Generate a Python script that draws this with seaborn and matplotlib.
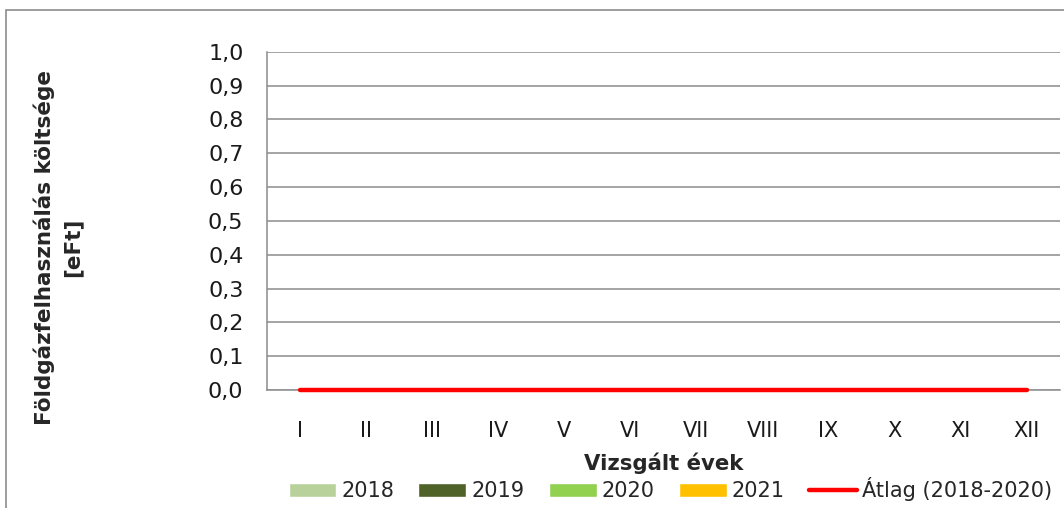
import matplotlib
matplotlib.use("Agg")
import numpy as np
import pandas as pd
import matplotlib.pyplot as plt
import seaborn as sns
from matplotlib.patches import Patch, Rectangle
from matplotlib.lines import Line2D
from matplotlib.ticker import FuncFormatter, MultipleLocator

# adatok
honapok = ["I", "II", "III", "IV", "V", "VI", "VII", "VIII", "IX", "X", "XI", "XII"]
evek = ["2018", "2019", "2020", "2021"]
ertek_2018 = [0, 0, 0, 0, 0, 0, 0, 0, 0, 0, 0, 0]
ertek_2019 = [0, 0, 0, 0, 0, 0, 0, 0, 0, 0, 0, 0]
ertek_2020 = [0, 0, 0, 0, 0, 0, 0, 0, 0, 0, 0, 0]
ertek_2021 = [0, 0, 0, 0, 0, 0, 0, 0, 0, 0, 0, 0]
atlag = [0, 0, 0, 0, 0, 0, 0, 0, 0, 0, 0, 0]

szinek = ["#b8d19a", "#4f6228", "#92d050", "#ffc000"]
atlag_szin = "#ff0000"
racs_szin = "#8c8c8c"

df = pd.DataFrame({
    "honap": honapok * 4,
    "ev": np.repeat(evek, 12),
    "ertek": ertek_2018 + ertek_2019 + ertek_2020 + ertek_2021,
})

sns.set_style("white")
plt.rcParams["font.family"] = ["DejaVu Sans"]
plt.rcParams["font.size"] = 15

fig = plt.figure(figsize=(10.64, 5.08), dpi=100)
ax = fig.add_axes([0.251, 0.232, 0.745, 0.666])

sns.barplot(data=df, x="honap", y="ertek", hue="ev", palette=szinek,
            ax=ax, legend=False, order=honapok, hue_order=evek)
ax.plot(np.arange(len(honapok)), atlag, color=atlag_szin, lw=3.2,
        solid_capstyle="round", zorder=5, clip_on=False)

ax.set_ylim(0, 1.0)
ax.set_xlim(-0.5, len(honapok) - 0.5)
ax.yaxis.set_major_locator(MultipleLocator(0.1))
ax.yaxis.set_major_formatter(FuncFormatter(lambda v, p: f"{v:.1f}".replace(".", ",")))
ax.grid(axis="y", color=racs_szin, lw=1.1)
ax.set_axisbelow(True)

for s in ["top", "right"]:
    ax.spines[s].set_visible(False)
for s in ["left", "bottom"]:
    ax.spines[s].set_color(racs_szin)
    ax.spines[s].set_linewidth(1.1)

ax.tick_params(axis="x", length=0, pad=22, labelsize=15, colors="#1a1a1a")
ax.tick_params(axis="y", length=0, pad=17, labelsize=16, colors="#1a1a1a")

ax.set_xlabel("Vizsgált évek", fontsize=15.3, fontweight="bold")
ax.xaxis.set_label_coords(0.5, -0.216)
ax.xaxis.label.set_va("center")
ax.set_ylabel("Földgázfelhasználás költsége\n[eFt]", fontsize=15.5, fontweight="bold",
              linespacing=1.45)
ax.yaxis.set_label_coords(-0.2636, 0.423)
ax.yaxis.label.set_va("center")

kezelok = [Patch(facecolor=c, label=e) for c, e in zip(szinek, evek)]
kezelok.append(Line2D([0], [0], color=atlag_szin, lw=3.2, label="Átlag (2018-2020)"))
fig.legend(handles=kezelok, loc="center", bbox_to_anchor=(0.63, 0.037), ncol=5,
           frameon=False, fontsize=15, handlelength=2.3, handleheight=0.67,
           handletextpad=0.25, columnspacing=1.15, borderpad=0)

fig.patches.append(Rectangle((6 / 1064, -0.1), 1.2, 1.1 - 10 / 508, transform=fig.transFigure,
                             fill=False, ec="#8c8c8c", lw=1.2, zorder=0))

fig.savefig("out.png", dpi=100)
